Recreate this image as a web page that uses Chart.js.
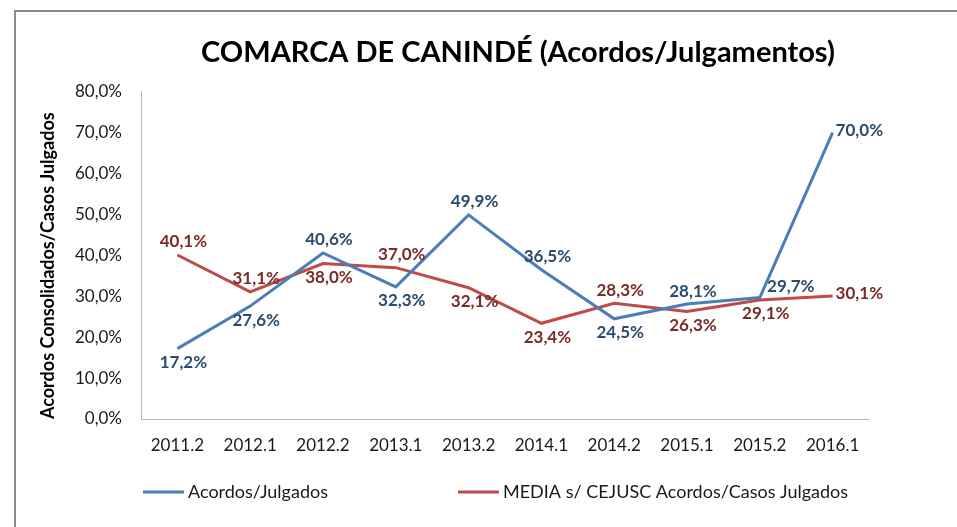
<!DOCTYPE html>
<html>
<head>
<meta charset="utf-8">
<script src="https://cdn.jsdelivr.net/npm/chart.js@4.4.0/dist/chart.umd.min.js"></script>
<style>
  html, body { margin: 0; padding: 0; background: #fff; overflow: hidden; }
  #wrap { position: relative; width: 957px; height: 527px; overflow: hidden; }
  #frame { position: absolute; left: 14px; top: 10px; width: 1200px; height: 800px; border: 2px solid #8a8a8a; }
  #chart { position: absolute; left: 0; top: 0; }
</style>
</head>
<body>
<div id="wrap">
  <div id="frame"></div>
  <canvas id="chart" width="1036" height="527"></canvas>
</div>
<script>
const categories = ['2011.2', '2012.1', '2012.2', '2013.1', '2013.2', '2014.1', '2014.2', '2015.1', '2015.2', '2016.1'];
const acordosJulgados = [17.2, 27.6, 40.6, 32.3, 49.9, 36.5, 24.5, 28.1, 29.7, 70.0];
const mediaCejusc = [40.1, 31.1, 38.0, 37.0, 32.1, 23.4, 28.3, 26.3, 29.1, 30.1];

// where each value label sits relative to its point: a = above, b = below, r = right, ar = above right
const posAcordos = ['b', 'b', 'a', 'b', 'a', 'a', 'b', 'a', 'ar', 'r'];
const posMedia = ['a', 'a', 'b', 'a', 'b', 'b', 'a', 'b', 'b', 'r'];

const FONT = 'Lato, "Open Sans", sans-serif';
const fmt = v => v.toFixed(1).replace('.', ',') + '%';

// value labels next to the points
const valueLabels = {
  id: 'valueLabels',
  afterDatasetsDraw(chart) {
    const ctx = chart.ctx;
    ctx.save();
    ctx.font = 'bold 17px ' + FONT;
    ctx.textBaseline = 'middle';
    chart.data.datasets.forEach((ds, i) => {
      const meta = chart.getDatasetMeta(i);
      ctx.fillStyle = ds.labelColor;
      meta.data.forEach((pt, j) => {
        let x = pt.x, y = pt.y;
        ctx.textAlign = 'center';
        const p = ds.labelPos[j];
        if (p === 'a') { x += 6; y -= 13; }
        else if (p === 'b') { x += 6; y += 14; }
        else if (p === 'ar') { x += 31; y -= 11; }
        else if (p === 'r') { ctx.textAlign = 'left'; x += 3; y -= 2; }
        ctx.fillText(fmt(ds.data[j]), x, y);
      });
    });
    ctx.restore();
  }
};

// legend spread out like the spreadsheet one
const wideLegend = {
  id: 'wideLegend',
  afterDraw(chart) {
    const ctx = chart.ctx;
    const spots = [143, 458];
    ctx.save();
    ctx.font = '18px ' + FONT;
    ctx.textBaseline = 'middle';
    ctx.textAlign = 'left';
    chart.data.datasets.forEach((ds, i) => {
      const x = spots[i], y = 492;
      ctx.strokeStyle = ds.borderColor;
      ctx.lineWidth = 3;
      ctx.beginPath();
      ctx.moveTo(x, y);
      ctx.lineTo(x + 41, y);
      ctx.stroke();
      ctx.fillStyle = '#1a1a1a';
      ctx.fillText(ds.label, x + 45, y);
    });
    ctx.restore();
  }
};

new Chart(document.getElementById('chart'), {
  type: 'line',
  data: {
    labels: categories,
    datasets: [{
      label: 'Acordos/Julgados',
      data: acordosJulgados,
      borderColor: '#4a7ebb',
      backgroundColor: '#4a7ebb',
      borderWidth: 3,
      pointRadius: 0,
      tension: 0,
      labelColor: '#2b4a6f',
      labelPos: posAcordos
    }, {
      label: 'MEDIA s/ CEJUSC Acordos/Casos Julgados',
      data: mediaCejusc,
      borderColor: '#be4b48',
      backgroundColor: '#be4b48',
      borderWidth: 3,
      pointRadius: 0,
      tension: 0,
      labelColor: '#7a2a28',
      labelPos: posMedia
    }]
  },
  options: {
    responsive: false,
    animation: false,
    layout: { padding: 0 },
    plugins: {
      legend: { display: false },
      tooltip: { enabled: false },
      title: {
        display: true,
        text: 'COMARCA DE CANINDÉ (Acordos/Julgamentos)',
        color: '#000',
        font: { family: FONT, size: 29, weight: 'bold' },
        padding: { top: 35, bottom: 22 }
      }
    },
    scales: {
      x: {
        offset: true,
        grid: { display: false, drawTicks: false },
        border: { display: true, color: '#b8b8b8', width: 1 },
        ticks: { color: '#1a1a1a', font: { family: FONT, size: 17 }, padding: 16, maxRotation: 0 },
        afterFit: s => { s.height = 108; }
      },
      y: {
        min: 0,
        max: 80,
        grid: { display: false, drawTicks: false },
        border: { display: true, color: '#b8b8b8', width: 1 },
        ticks: { stepSize: 10, color: '#1a1a1a', font: { family: FONT, size: 17 }, padding: 19, callback: v => fmt(v) },
        title: {
          display: true,
          text: 'Acordos Consolidados/Casos Julgados',
          align: 'start',
          color: '#000',
          font: { family: FONT, size: 18, weight: 'bold' },
          padding: { top: 37, bottom: 0 }
        },
        afterFit: s => { s.width = 141; }
      },
      // empty space on the right, the spreadsheet chart is wider than the window
      yRight: {
        position: 'right',
        min: 0,
        max: 80,
        grid: { display: false, drawTicks: false },
        border: { display: false },
        ticks: { display: false },
        afterFit: s => { s.width = 167; }
      }
    }
  },
  plugins: [valueLabels, wideLegend]
});
</script>
</body>
</html>
